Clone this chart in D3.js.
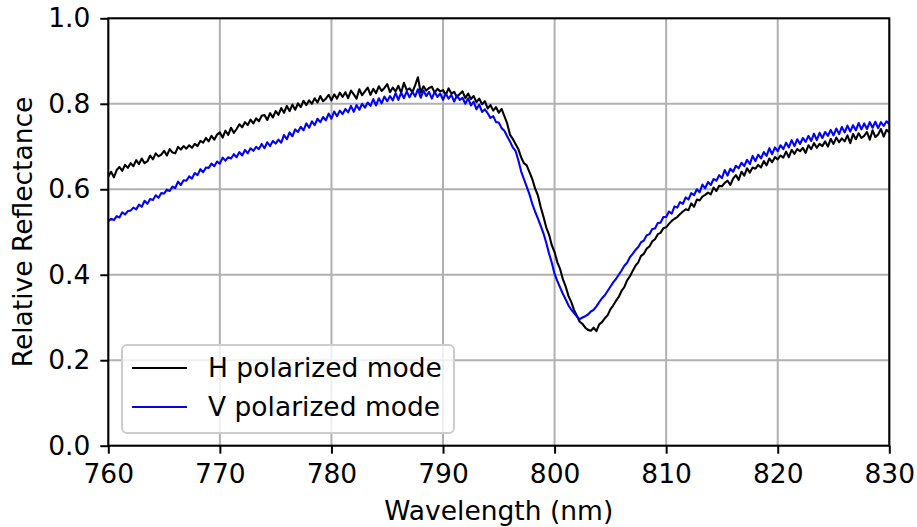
<!DOCTYPE html>
<html>
<head>
<meta charset="utf-8">
<script src="https://cdn.jsdelivr.net/npm/d3@7"></script>
<style>
  body { margin: 0; background: #fff; }
  svg { display: block; font-family: "DejaVu Sans", sans-serif; }
</style>
</head>
<body>
<svg id="chart" width="917" height="527"></svg>
<script>
// wavelength sampling: 760..830 nm every 0.25 nm
const wlStart = 760, wlStep = 0.25;

// H polarized mode (black), 4 samples per nm
const hValues = [
  .630,.641,.628,.645, .652,.643,.657,.650, .661,.654,.668,.659, .672,.661,.665,.679,
  .670,.684,.677,.681, .690,.679,.694,.686, .684,.699,.693,.701, .695,.703,.697,.706,
  .701,.713,.709,.720, .712,.725,.716,.728, .733,.721,.737,.727, .744,.732,.741,.752,
  .745,.757,.750,.763, .754,.766,.759,.772, .774,.762,.778,.768, .783,.774,.790,.779,
  .795,.783,.798,.786, .801,.792,.807,.797, .808,.800,.813,.803, .818,.806,.812,.821,
  .808,.822,.812,.826, .816,.827,.813,.831, .822,.812,.834,.820, .829,.838,.821,.835,
  .825,.841,.830,.837, .846,.827,.838,.829, .842,.826,.849,.832, .836,.827,.843,.862,
  .826,.841,.831,.837, .840,.826,.835,.829, .832,.821,.836,.824, .828,.815,.823,.829,
  .813,.824,.811,.818, .804,.812,.799,.806, .789,.797,.784,.792, .779,.788,.771,.754,
  .728,.718,.706,.694, .675,.661,.656,.640, .624,.602,.586,.559, .536,.511,.494,.469,
  .453,.429,.413,.389, .372,.350,.336,.317, .304,.290,.285,.276, .271,.269,.276,.268,
  .284,.289,.298,.305, .319,.328,.339,.348, .362,.371,.387,.396, .409,.421,.429,.444,
  .449,.461,.466,.478, .483,.495,.498,.509, .511,.519,.526,.531, .535,.542,.548,.553,
  .551,.567,.559,.576, .574,.583,.587,.592, .588,.604,.596,.608, .607,.615,.620,.610,
  .625,.633,.622,.641, .632,.649,.639,.651, .648,.657,.651,.666, .656,.672,.663,.675,
  .670,.679,.674,.688, .675,.692,.683,.694, .689,.697,.685,.703, .694,.708,.697,.706,
  .701,.712,.700,.718, .706,.721,.710,.719, .712,.726,.708,.729, .717,.731,.720,.725,
  .734,.716,.738,.722, .728,.741,.723,.739, .733
];

// V polarized mode (blue), 4 samples per nm
const vValues = [
  .525,.531,.528,.537, .534,.546,.541,.549, .550,.557,.553,.564, .559,.573,.566,.577,
  .575,.586,.580,.591, .590,.599,.596,.606, .603,.618,.610,.621, .620,.630,.625,.638,
  .633,.647,.640,.651, .650,.660,.654,.665, .660,.674,.667,.675, .672,.682,.675,.687,
  .679,.692,.684,.696, .690,.699,.694,.706, .696,.710,.701,.713, .707,.716,.709,.727,
  .717,.733,.724,.740, .734,.746,.738,.754, .744,.759,.750,.765, .757,.769,.761,.777,
  .765,.782,.771,.784, .776,.788,.780,.795, .781,.797,.786,.800, .791,.803,.795,.811,
  .796,.813,.801,.817, .806,.818,.808,.825, .809,.826,.813,.829, .815,.828,.817,.834,
  .814,.831,.818,.828, .812,.828,.816,.824, .809,.824,.812,.821, .805,.820,.809,.814,
  .800,.813,.796,.805, .787,.798,.781,.787, .778,.767,.771,.757, .756,.743,.737,.724,
  .712,.698,.690,.668, .642,.624,.606,.588, .566,.548,.532,.515, .497,.475,.450,.428,
  .402,.385,.370,.355, .342,.328,.318,.310, .302,.296,.300,.303, .307,.314,.318,.326,
  .336,.345,.352,.362, .372,.382,.390,.400, .410,.421,.428,.441, .449,.458,.465,.476,
  .480,.492,.495,.507, .508,.521,.522,.535, .535,.548,.543,.560, .557,.570,.566,.581,
  .576,.591,.586,.600, .593,.611,.602,.617, .610,.624,.620,.633, .626,.645,.632,.648,
  .641,.655,.649,.662, .654,.669,.659,.678, .666,.681,.672,.687, .678,.696,.682,.698,
  .689,.703,.694,.709, .698,.715,.701,.717, .706,.720,.711,.725, .713,.730,.715,.732,
  .720,.734,.725,.739, .726,.742,.729,.746, .733,.749,.735,.750, .738,.755,.740,.754,
  .741,.757,.744,.758, .743,.757,.748,.759, .752
];

const seriesNames = ["H polarized mode", "V polarized mode"];
const seriesColors = ["#000000", "#0000ff"];
const xTicks = [760, 770, 780, 790, 800, 810, 820, 830];
const yTicks = [0.0, 0.2, 0.4, 0.6, 0.8, 1.0];

const svg = d3.select("#chart");
const margin = { left: 108.3, right: 917 - 889.3, top: 18.3, bottom: 527 - 445.7 };
const W = 917, H = 527;
const fs = 26.5;

const x = d3.scaleLinear().domain([760, 830]).range([margin.left, W - margin.right]);
const y = d3.scaleLinear().domain([0, 1]).range([H - margin.bottom, margin.top]);

// grid
const grid = svg.append("g").attr("stroke", "#b0b0b0").attr("stroke-width", 2);
grid.selectAll(".gx").data(xTicks).join("line")
  .attr("x1", d => x(d)).attr("x2", d => x(d))
  .attr("y1", y(0)).attr("y2", y(1));
grid.selectAll(".gy").data(yTicks).join("line")
  .attr("x1", x(760)).attr("x2", x(830))
  .attr("y1", d => y(d)).attr("y2", d => y(d));

// lines
const toPts = vals => vals.map((v, i) => [wlStart + i * wlStep, v]);
const line = d3.line().x(d => x(d[0])).y(d => y(d[1]));
const plot = svg.append("g");
[hValues, vValues].forEach((vals, i) => {
  plot.append("path")
    .attr("d", line(toPts(vals)))
    .attr("fill", "none")
    .attr("stroke", seriesColors[i])
    .attr("stroke-width", 2.1)
    .attr("stroke-linejoin", "round");
});

// axes
const xAxis = svg.append("g")
  .attr("transform", `translate(0,${y(0)})`)
  .call(d3.axisBottom(x).tickValues(xTicks).tickFormat(d3.format("d")).tickSize(8).tickPadding(10));
const yAxis = svg.append("g")
  .attr("transform", `translate(${x(760)},0)`)
  .call(d3.axisLeft(y).tickValues(yTicks).tickFormat(d3.format(".1f")).tickSize(8).tickPadding(10));
[xAxis, yAxis].forEach(a => {
  a.select(".domain").remove();
  a.selectAll(".tick line").attr("stroke", "#000").attr("stroke-width", 2);
  a.selectAll(".tick text").attr("font-size", fs).attr("fill", "#000")
    .attr("font-family", "DejaVu Sans, sans-serif");
});

// frame
svg.append("rect")
  .attr("x", x(760)).attr("y", y(1))
  .attr("width", x(830) - x(760)).attr("height", y(0) - y(1))
  .attr("fill", "none").attr("stroke", "#000").attr("stroke-width", 2);

// axis labels
svg.append("text")
  .attr("x", (x(760) + x(830)) / 2).attr("y", 520)
  .attr("text-anchor", "middle").attr("font-size", fs)
  .text("Wavelength (nm)");
svg.append("text")
  .attr("transform", `translate(32,${(y(0) + y(1)) / 2}) rotate(-90)`)
  .attr("text-anchor", "middle").attr("font-size", fs)
  .text("Relative Reflectance");

// legend
const lg = svg.append("g");
lg.append("rect")
  .attr("x", 122).attr("y", 345).attr("width", 332).attr("height", 88)
  .attr("rx", 5).attr("fill", "#fff").attr("fill-opacity", 0.8)
  .attr("stroke", "#cccccc").attr("stroke-width", 2);
seriesNames.forEach((name, i) => {
  const ly = 368 + i * 39;
  lg.append("line")
    .attr("x1", 132).attr("x2", 187).attr("y1", ly).attr("y2", ly)
    .attr("stroke", seriesColors[i]).attr("stroke-width", 2);
  lg.append("text")
    .attr("x", 208).attr("y", ly).attr("dy", "0.35em")
    .attr("font-size", fs).text(name);
});
</script>
</body>
</html>
